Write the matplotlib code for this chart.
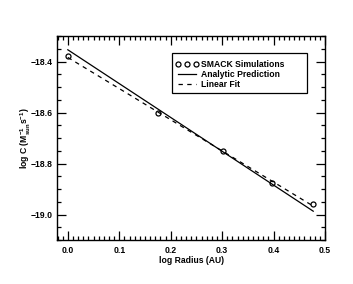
import numpy as np
import matplotlib
matplotlib.use("Agg")
import matplotlib.pyplot as plt
from matplotlib.ticker import MultipleLocator
from matplotlib.patches import Rectangle

plt.rcParams['font.family'] = ['Liberation Sans', 'DejaVu Sans']
plt.rcParams['font.weight'] = 'bold'
plt.rcParams['mathtext.fontset'] = 'custom'
plt.rcParams['mathtext.rm'] = 'Liberation Sans:bold'
plt.rcParams['mathtext.it'] = 'Liberation Sans:bold'

# SMACK simulation points (log R in AU, log C)
sim_logr = [0.0, 0.1761, 0.3010, 0.3979, 0.4771]
sim_logc = [-18.380, -18.602, -18.751, -18.877, -18.960]

# analytic prediction, end points
analytic_logr = [0.0, 0.4771]
analytic_logc = [-18.354, -18.987]

# linear fit, end points
fit_logr = [0.0, 0.4771]
fit_logc = [-18.384, -18.967]

fs = 6.2

fig = plt.figure(figsize=(3.53, 2.84), dpi=100)
ax = fig.add_axes([0.1615, 0.1549, 0.7592, 0.7183])

ax.plot(sim_logr, sim_logc, 'o', mfc='none', mec='black', ms=3.6, mew=0.9,
        label='SMACK Simulations')
ax.plot(analytic_logr, analytic_logc, '-', color='black', lw=0.9,
        label='Analytic Prediction')
ax.plot(fit_logr, fit_logc, '--', color='black', lw=0.9, dashes=(3.5, 3.5),
        label='Linear Fit')

ax.set_xlim(-0.021, 0.5)
ax.set_ylim(-19.1, -18.3)
ax.xaxis.set_major_locator(MultipleLocator(0.1))
ax.xaxis.set_minor_locator(MultipleLocator(0.01))
ax.yaxis.set_major_locator(MultipleLocator(0.2))
ax.yaxis.set_minor_locator(MultipleLocator(0.05))
ax.tick_params(which='both', direction='in', top=True, right=True,
               labelsize=fs, width=0.9)
ax.tick_params(which='major', length=6.5)
ax.tick_params(axis='x', which='major', pad=4)
ax.tick_params(axis='y', which='major', pad=3)
ax.tick_params(which='minor', length=3)
for s in ax.spines.values():
    s.set_linewidth(1.0)

ax.xaxis.set_major_formatter(plt.FuncFormatter(lambda v, p: f'{v:.1f}'))
ax.yaxis.set_major_formatter(plt.FuncFormatter(lambda v, p: f'\u2212{abs(v):.1f}'))

ax.set_xlabel('log Radius (AU)', fontsize=fs, fontweight='bold', labelpad=1)
ax.set_ylabel(r'log C (M$_{\mathrm{sun}}^{-1}$s$^{-1}$)', fontsize=fs,
              fontweight='bold', labelpad=-1.2)

# legend box drawn separately (wider than its text)
ax.add_patch(Rectangle((0.429, 0.721), 0.504, 0.196, transform=ax.transAxes,
                       fill=True, fc='white', ec='black', lw=0.9, zorder=4))
leg = ax.legend(loc='upper left', bbox_to_anchor=(0.440, 0.881), fontsize=fs,
                numpoints=3, handlelength=2.7, handletextpad=0.3,
                borderpad=0, labelspacing=0.12, frameon=False,
                borderaxespad=0)
leg.set_zorder(5)

fig.savefig('out.png', dpi=100)
